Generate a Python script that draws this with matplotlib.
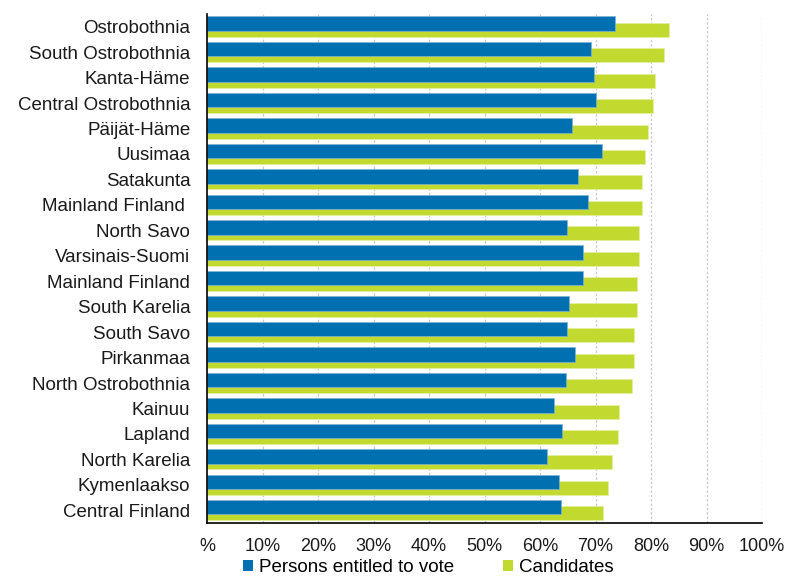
import matplotlib
matplotlib.use('Agg')
import matplotlib.pyplot as plt
from matplotlib.patches import Patch

plt.rcParams['font.family'] = ['Liberation Sans', 'DejaVu Sans']

regions = [
    'Ostrobothnia', 'South Ostrobothnia', 'Kanta-Häme', 'Central Ostrobothnia',
    'Päijät-Häme', 'Uusimaa', 'Satakunta', 'Mainland Finland ', 'North Savo',
    'Varsinais-Suomi', 'Mainland Finland', 'South Karelia', 'South Savo',
    'Pirkanmaa', 'North Ostrobothnia', 'Kainuu', 'Lapland', 'North Karelia',
    'Kymenlaakso', 'Central Finland',
]
entitled = [73.5, 69.1, 69.7, 70.0, 65.7, 71.2, 66.9, 68.6, 64.8, 67.7,
            67.7, 65.2, 64.8, 66.3, 64.6, 62.5, 64.0, 61.3, 63.4, 63.7]
candidates = [83.3, 82.4, 80.7, 80.4, 79.5, 79.0, 78.4, 78.4, 77.8, 77.8,
              77.5, 77.5, 76.9, 76.9, 76.6, 74.3, 74.1, 72.9, 72.3, 71.4]
xticks = list(range(0, 101, 10))
xtick_labels = ['%'] + [f'{t}%' for t in xticks[1:]]

BLUE = '#0070b0'
GREEN = '#c2d92f'

fig = plt.figure(figsize=(7.86, 5.76), dpi=100)
ax = fig.add_axes([0.2634, 0.092, 0.7061, 0.8837])

pos = list(range(len(regions)))
ax.barh([p + 0.12 for p in pos], candidates, height=0.55, color=GREEN,
        edgecolor='#e4efa8', linewidth=0.5, zorder=2)
ax.barh([p - 0.12 for p in pos], entitled, height=0.57, color=BLUE,
        edgecolor='#7fb3d6', linewidth=0.5, zorder=3)

ax.set_ylim(len(regions) - 0.5, -0.5)
ax.set_xlim(0, 100)
ax.set_yticks(pos)
ax.set_yticklabels(regions, fontsize=13.5, color='#1a1a1a')
ax.set_xticks(xticks)
ax.set_xticklabels(xtick_labels, fontsize=13, color='#1a1a1a')
ax.tick_params(axis='both', length=0)
ax.tick_params(axis='y', pad=12)
ax.tick_params(axis='x', pad=11)

for t in xticks[1:]:
    ax.axvline(t, color='#c8c8c8', linestyle=(0, (2, 1.5)), linewidth=0.9, zorder=1)

for s in ['top', 'right']:
    ax.spines[s].set_visible(False)
for s in ['left', 'bottom']:
    ax.spines[s].set_color('black')
    ax.spines[s].set_linewidth(1.2)
ax.spines['left'].set_zorder(4)

handles = [Patch(facecolor=BLUE, label='Persons entitled to vote'),
           Patch(facecolor=GREEN, label='Candidates')]
fig.legend(handles=handles, loc='center', bbox_to_anchor=(0.545, 0.015),
           ncol=2, frameon=False, fontsize=13.5, handlelength=0.55,
           handleheight=0.55, handletextpad=0.3, columnspacing=2.6,
           borderpad=0)

fig.savefig('out.png', dpi=100)
